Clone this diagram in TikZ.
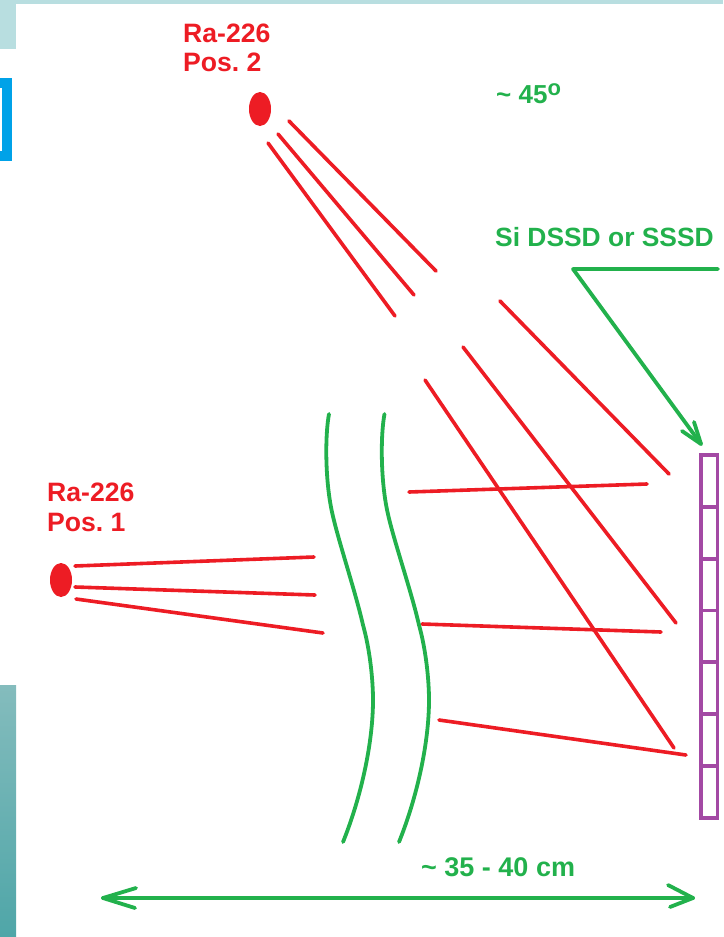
\documentclass[tikz,border=0pt]{standalone}
\usepackage{fontspec}
\usetikzlibrary{shapes.geometric}
\setmainfont{Liberation Sans}
\definecolor{rd}{HTML}{ED1C24}
\definecolor{gn}{HTML}{22B14C}
\definecolor{pu}{HTML}{A349A4}
\definecolor{lb}{HTML}{B8DEE0}
\definecolor{bl}{HTML}{00A2E8}
\definecolor{tealtop}{HTML}{84BCBD}
\definecolor{tealbot}{HTML}{4FA6A8}
\frenchspacing
\begin{document}
\begin{tikzpicture}[x=1pt,y=-1pt,line cap=round,
  ray/.style={draw=rd,line width=3.6pt},
  gline/.style={draw=gn,line width=3.8pt},
  src/.style={ellipse,fill=rd,minimum width=22pt,minimum height=34pt,inner sep=0pt},
  rlabel/.style={text=rd,font=\bfseries\fontsize{26.6pt}{29.5pt}\selectfont,align=left,anchor=north west,inner sep=0pt},
  glabel/.style={text=gn,font=\bfseries\fontsize{26.4pt}{29pt}\selectfont,anchor=base west,inner sep=0pt},
  cell/.style={draw=pu,line width=3.8pt,minimum width=16.3pt,minimum height=51.8pt,inner sep=0pt,outer sep=0pt,anchor=north west}]
\useasboundingbox (0,0) rectangle (723,937);
% decorative page remnants
\fill[lb] (0,0) rectangle (723,4);
\fill[lb] (0,0) rectangle (16,49);
\fill[bl] (0,78) rectangle (12,161);
\fill[white] (0,88) rectangle (2,151);
\shade[top color=tealtop,bottom color=tealbot] (0,685) rectangle (16,937);
% sources
\node[src] (p2) at (260,109) {};
\node[src] (p1) at (61,580) {};
\node[rlabel] (l2) at (183,23.5) {Ra-226\\Pos. 2};
\node[rlabel] (l1) at (47,483) {Ra-226\\Pos. 1};
% detector
\foreach \i/\y in {1/455,2/506.8,3/558.6,4/610.4,5/662.2,6/714,7/765.8}
  \node[cell] (d\i) at (701.2,\y) {};
% ray end points
\foreach \n/\x/\y in {a1/289/121,a2/436/271,b1/278/134,b2/414/295,c1/268/143,c2/395/316,
  d1a/500/301,d2a/669/474,e1/463/347,e2/676/623,f1/425/380,f2/674/748,
  g1/409/492,g2/647/484,h1/422/624,h2/661/632,i1/439/720,i2/686/755,
  j1/75/566,j2/314/557,k1/75/587,k2/315/595,m1/76/599,m2/323/633}
  \coordinate (\n) at (\x,\y);
\draw[ray] (a1)--(a2);
\draw[ray] (b1)--(b2);
\draw[ray] (c1)--(c2);
\draw[ray] (d1a)--(d2a);
\draw[ray] (e1)--(e2);
\draw[ray] (f1)--(f2);
\draw[ray] (g1)--(g2);
\draw[ray] (h1)--(h2);
\draw[ray] (i1)--(i2);
\draw[ray] (j1)--(j2);
\draw[ray] (k1)--(k2);
\draw[ray] (m1)--(m2);
% lens curves
\draw[gline] (329,414) .. controls (325,435) and (325,480) .. (332,512) .. controls (338,540) and (355,590) .. (363,625) .. controls (370,650) and (373,680) .. (373,700) .. controls (373,745) and (360,800) .. (343,842);
\draw[gline] (384.5,414) .. controls (380.5,435) and (380.5,480) .. (387.5,512) .. controls (393.5,540) and (411,590) .. (419,625) .. controls (426,650) and (429,680) .. (429,700) .. controls (429,745) and (416,800) .. (399,842);
% labels
\node[glabel] (ang) at (496,103) {\fontsize{26pt}{28pt}\selectfont\textasciitilde\ 45\raisebox{8pt}{\fontsize{22pt}{24pt}\selectfont o}};
\node[glabel] (si) at (495,246) {Si DSSD or SSSD};
\node[glabel] (dist) at (421,876) {\fontsize{27pt}{29pt}\selectfont\textasciitilde\ 35 - 40 cm};
% pointer
\coordinate (s1) at (718,269);
\coordinate (s2) at (573,269);
\coordinate (s3) at (701,444);
\coordinate (s4) at (682,431);
\coordinate (s5) at (694,422);
\draw[gline,line join=round] (s1)--(s2)--(s3);
\draw[gline,line join=round] (s4)--(s3)--(s5);
% dimension arrow
\coordinate (w) at (103,898);
\coordinate (e) at (693,898);
\coordinate (w1) at (136,888);
\coordinate (w2) at (135,908);
\coordinate (e1a) at (668,885);
\coordinate (e2a) at (670,907);
\draw[gline] (w)--(e);
\draw[gline,line join=round] (w1)--(w)--(w2);
\draw[gline,line join=round] (e1a)--(e)--(e2a);
\end{tikzpicture}
\end{document}
